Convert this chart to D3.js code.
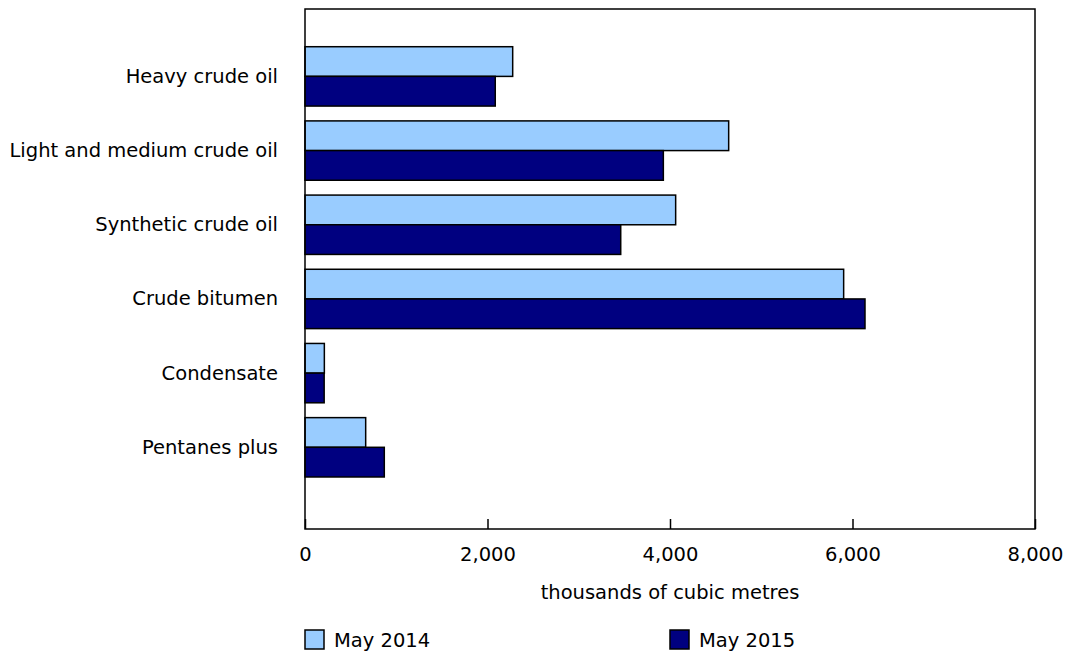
<!DOCTYPE html>
<html>
<head>
<meta charset="utf-8">
<script src="https://cdn.jsdelivr.net/npm/d3@7"></script>
<style>
  body { margin: 0; background: #fff; }
  svg { font-family: "DejaVu Sans", Verdana, sans-serif; }
</style>
</head>
<body>
<svg width="1067" height="654"></svg>
<script>
const categories = ["Heavy crude oil", "Light and medium crude oil", "Synthetic crude oil", "Crude bitumen", "Condensate", "Pentanes plus"];
const seriesNames = ["May 2014", "May 2015"];
const may2014 = [2276, 4643, 4062, 5903, 212, 665];
const may2015 = [2085, 3927, 3460, 6137, 210, 869];
const xTicks = [0, 2000, 4000, 6000, 8000];
const colors = ["#99ccff", "#000080"];

const svg = d3.select("svg");
const plotLeft = 305, plotRight = 1035, plotTop = 9, plotBottom = 529;
const fontSize = "19.5px";

// scales
const x = d3.scaleLinear().domain([0, 8000]).range([plotLeft, plotRight]);
const y = d3.scaleBand().domain(categories).range([39.3, 484.4]).paddingInner(0.2).paddingOuter(0.1);
const ySub = d3.scaleBand().domain(seriesNames).range([0, y.bandwidth()]);

const rows = categories.map((c, i) => ({ cat: c, vals: [may2014[i], may2015[i]] }));

// bars
const g = svg.selectAll("g.row")
  .data(rows)
  .enter()
  .append("g")
  .attr("class", "row")
  .attr("transform", d => `translate(0, ${y(d.cat)})`);

g.selectAll("rect")
  .data(d => d.vals.map((v, i) => ({ v, s: seriesNames[i], i })))
  .enter()
  .append("rect")
  .attr("x", x(0))
  .attr("y", d => ySub(d.s))
  .attr("width", d => x(d.v) - x(0))
  .attr("height", ySub.bandwidth())
  .attr("fill", d => colors[d.i])
  .attr("stroke", "#000")
  .attr("stroke-width", 1.5);

// frame
svg.append("rect")
  .attr("x", plotLeft).attr("y", plotTop)
  .attr("width", plotRight - plotLeft).attr("height", plotBottom - plotTop)
  .attr("fill", "none").attr("stroke", "#000").attr("stroke-width", 1.5);

// x axis (ticks pointing up into the plot)
const xAxis = d3.axisBottom(x).tickValues(xTicks).tickSize(-10).tickPadding(18).tickFormat(d3.format(","));
svg.append("g")
  .attr("transform", `translate(0, ${plotBottom})`)
  .call(xAxis)
  .call(a => a.select(".domain").remove())
  .call(a => a.selectAll("line").attr("stroke", "#000").attr("stroke-width", 1.5))
  .call(a => a.selectAll("text").style("font-size", fontSize).attr("fill", "#000").attr("font-family", "DejaVu Sans"));

// category labels
svg.append("g")
  .selectAll("text")
  .data(categories)
  .enter()
  .append("text")
  .attr("x", 278)
  .attr("y", d => y(d) + y.bandwidth() / 2)
  .attr("text-anchor", "end")
  .attr("dominant-baseline", "central")
  .style("font-size", fontSize)
  .text(d => d);

// axis title
svg.append("text")
  .attr("x", (plotLeft + plotRight) / 2)
  .attr("y", 599)
  .attr("text-anchor", "middle")
  .style("font-size", fontSize)
  .text("thousands of cubic metres");

// legend
const legendX = [305, 670];
const lg = svg.selectAll("g.legend")
  .data(seriesNames)
  .enter()
  .append("g")
  .attr("class", "legend")
  .attr("transform", (d, i) => `translate(${legendX[i]}, 630)`);
lg.append("rect")
  .attr("width", 19).attr("height", 19)
  .attr("fill", (d, i) => colors[i])
  .attr("stroke", "#000").attr("stroke-width", 1.5);
lg.append("text")
  .attr("x", 29).attr("y", 10)
  .attr("dominant-baseline", "central")
  .style("font-size", fontSize)
  .text(d => d);
</script>
</body>
</html>
